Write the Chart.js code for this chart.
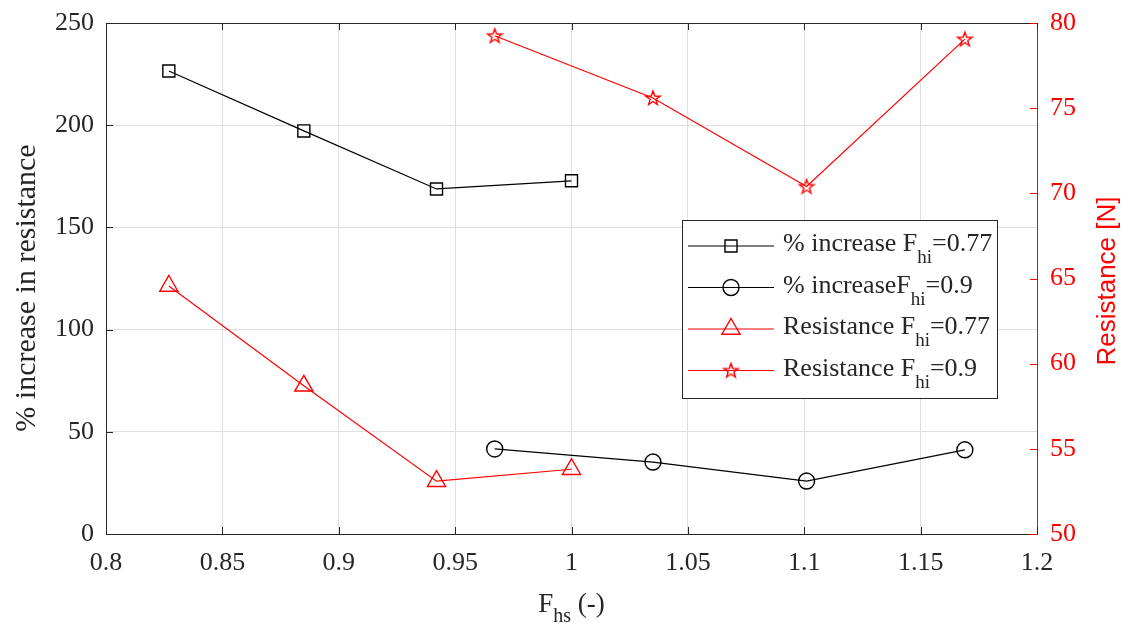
<!DOCTYPE html>
<html>
<head>
<meta charset="utf-8">
<script src="https://cdn.jsdelivr.net/npm/chart.js@4.4.1/dist/chart.umd.min.js"></script>
<style>
    html, body { margin: 0; padding: 0; background: #fff; }
    #wrap { width: 1126px; height: 627px; }
</style>
</head>
<body>
<div id="wrap"><canvas id="graphCanvas" width="1126" height="627"></canvas></div>
<script>
// F_hs values (x axis)
var fhs077 = [0.827, 0.885, 0.942, 1.0];
var fhs090 = [0.967, 1.035, 1.101, 1.169];

// % increase in resistance (left axis)
var increase077 = [226.5, 197.2, 168.8, 172.8];
var increase090 = [41.6, 35.2, 25.9, 41.2];

// Resistance [N] (right axis)
var resistance077 = [64.56, 58.7, 53.1, 53.8];
var resistance090 = [79.25, 75.6, 70.4, 79.05];

var xTicks = [0.8, 0.85, 0.9, 0.95, 1, 1.05, 1.1, 1.15, 1.2];
var leftTicks = [0, 50, 100, 150, 200, 250];
var rightTicks = [50, 55, 60, 65, 70, 75, 80];

// legend labels: [text, subscript, text after]
var seriesLabels = [
    ['% increase F', 'hi', '=0.77'],
    ['% increaseF', 'hi', '=0.9'],
    ['Resistance F', 'hi', '=0.77'],
    ['Resistance F', 'hi', '=0.9']
];

var axisColor = '#262626';
var gridColor = '#e0e0e0';
var red = '#ff0000';
var serif = '"Liberation Serif", "Times New Roman", serif';
var sans = '"Liberation Sans", Arial, sans-serif';

function pts(xs, ys) {
    return xs.map(function (x, i) { return { x: x, y: ys[i] }; });
}

// MATLAB-like pentagram marker
function makeStar(size, color) {
    var c = document.createElement('canvas');
    c.width = size;
    c.height = size;
    var g = c.getContext('2d');
    var cx = size / 2, cy = size / 2 + 0.5, R = size / 2 - 1.5, r = R * 0.4;
    g.beginPath();
    for (var k = 0; k < 10; k++) {
        var a = -Math.PI / 2 + k * Math.PI / 5;
        var rr = (k % 2) ? r : R;
        g.lineTo(cx + rr * Math.cos(a), cy + rr * Math.sin(a));
    }
    g.closePath();
    g.strokeStyle = color;
    g.lineWidth = 1.4;
    g.stroke();
    return c;
}
var starImg = makeStar(18, red);

var markers = [
    { style: 'rect', radius: 8.5, color: '#000' },
    { style: 'circle', radius: 8, color: '#000' },
    { style: 'triangle', radius: 10.5, color: red },
    { style: starImg, radius: 8, color: red }
];

function drawMarker(ctx, m, x, y) {
    ctx.save();
    ctx.strokeStyle = m.color;
    ctx.lineWidth = 1.4;
    ctx.beginPath();
    if (m.style === 'rect') {
        var s = m.radius * Math.SQRT1_2;
        ctx.rect(x - s, y - s, 2 * s, 2 * s);
        ctx.stroke();
    } else if (m.style === 'circle') {
        ctx.arc(x, y, m.radius, 0, Math.PI * 2);
        ctx.stroke();
    } else if (m.style === 'triangle') {
        var rad = 0;
        for (var k = 0; k < 3; k++) {
            ctx.lineTo(x + Math.sin(rad) * m.radius, y - Math.cos(rad) * m.radius);
            rad += Math.PI * 2 / 3;
        }
        ctx.closePath();
        ctx.stroke();
    } else {
        ctx.drawImage(m.style, x - m.style.width / 2, y - m.style.height / 2);
    }
    ctx.restore();
}

// text with a subscript part, returns width
function subText(ctx, parts, x, y, size, subSize, drop, measureOnly) {
    ctx.font = size + 'px ' + serif;
    var w1 = ctx.measureText(parts[0]).width;
    var w3 = ctx.measureText(parts[2]).width;
    ctx.font = subSize + 'px ' + serif;
    var w2 = ctx.measureText(parts[1]).width;
    if (!measureOnly) {
        ctx.textAlign = 'left';
        ctx.textBaseline = 'alphabetic';
        ctx.font = size + 'px ' + serif;
        ctx.fillText(parts[0], x, y);
        ctx.fillText(parts[2], x + w1 + w2, y);
        ctx.font = subSize + 'px ' + serif;
        ctx.fillText(parts[1], x + w1, y + drop);
    }
    return w1 + w2 + w3;
}

var decorations = {
    id: 'decorations',
    afterDraw: function (chart) {
        var ctx = chart.ctx, a = chart.chartArea;
        var xs = chart.scales.x, ys = chart.scales.y, ys2 = chart.scales.y2;
        var t = 7;
        ctx.save();
        ctx.lineWidth = 1;

        // top box line + inward ticks
        ctx.strokeStyle = axisColor;
        ctx.beginPath();
        ctx.moveTo(a.left, Math.round(a.top) + 0.5);
        ctx.lineTo(a.right, Math.round(a.top) + 0.5);
        xTicks.forEach(function (v) {
            var px = Math.round(xs.getPixelForValue(v)) + 0.5;
            ctx.moveTo(px, a.bottom);
            ctx.lineTo(px, a.bottom - t);
            ctx.moveTo(px, a.top);
            ctx.lineTo(px, a.top + t);
        });
        leftTicks.forEach(function (v) {
            var py = Math.round(ys.getPixelForValue(v)) + 0.5;
            ctx.moveTo(a.left, py);
            ctx.lineTo(a.left + t, py);
        });
        ctx.stroke();

        ctx.strokeStyle = red;
        ctx.beginPath();
        rightTicks.forEach(function (v) {
            var py = Math.round(ys2.getPixelForValue(v)) + 0.5;
            ctx.moveTo(a.right, py);
            ctx.lineTo(a.right - t, py);
        });
        ctx.stroke();

        // axis titles
        ctx.fillStyle = axisColor;
        ctx.save();
        ctx.translate(27, 288);
        ctx.rotate(-Math.PI / 2);
        ctx.font = '30px ' + serif;
        ctx.textAlign = 'center';
        ctx.textBaseline = 'middle';
        ctx.fillText('% increase in resistance', 0, 0);
        ctx.restore();

        ctx.save();
        ctx.translate(1108, 281);
        ctx.rotate(-Math.PI / 2);
        ctx.font = '26px ' + sans;
        ctx.fillStyle = red;
        ctx.textAlign = 'center';
        ctx.textBaseline = 'middle';
        ctx.fillText('Resistance [N]', 0, 0);
        ctx.restore();

        var xt = ['F', 'hs', ' (-)'];
        var wx = subText(ctx, xt, 0, 0, 27, 20, 10, true);
        ctx.fillStyle = axisColor;
        subText(ctx, xt, (a.left + a.right) / 2 - wx / 2, 612, 27, 20, 10, false);

        // legend
        var bx = 682.5, by = 220.5, bw = 315, bh = 178;
        ctx.fillStyle = '#fff';
        ctx.fillRect(bx, by, bw, bh);
        ctx.strokeStyle = axisColor;
        ctx.strokeRect(bx, by, bw, bh);
        seriesLabels.forEach(function (lab, i) {
            var ly = 246 + i * 41.5;
            var m = markers[i];
            ctx.strokeStyle = m.color;
            ctx.lineWidth = 1.2;
            ctx.beginPath();
            ctx.moveTo(688, ly);
            ctx.lineTo(774, ly);
            ctx.stroke();
            drawMarker(ctx, m, 731, ly);
            ctx.fillStyle = axisColor;
            subText(ctx, lab, 783, ly + 5, 26, 19, 12, false);
        });
        ctx.restore();
    }
};

Chart.defaults.font.family = serif;

var chartdata = {
    datasets: [
        {
            label: seriesLabels[0].join(''),
            data: pts(fhs077, increase077),
            yAxisID: 'y',
            borderColor: '#000',
            borderWidth: 1.2,
            pointStyle: markers[0].style,
            pointRadius: markers[0].radius,
            pointBorderColor: '#000',
            pointBackgroundColor: 'rgba(0,0,0,0)',
            pointBorderWidth: 1.4
        },
        {
            label: seriesLabels[1].join(''),
            data: pts(fhs090, increase090),
            yAxisID: 'y',
            borderColor: '#000',
            borderWidth: 1.2,
            pointStyle: markers[1].style,
            pointRadius: markers[1].radius,
            pointBorderColor: '#000',
            pointBackgroundColor: 'rgba(0,0,0,0)',
            pointBorderWidth: 1.4
        },
        {
            label: seriesLabels[2].join(''),
            data: pts(fhs077, resistance077),
            yAxisID: 'y2',
            borderColor: red,
            borderWidth: 1.2,
            pointStyle: markers[2].style,
            pointRadius: markers[2].radius,
            pointBorderColor: red,
            pointBackgroundColor: 'rgba(0,0,0,0)',
            pointBorderWidth: 1.4
        },
        {
            label: seriesLabels[3].join(''),
            data: pts(fhs090, resistance090),
            yAxisID: 'y2',
            borderColor: red,
            borderWidth: 1.2,
            pointStyle: markers[3].style,
            pointRadius: markers[3].radius,
            pointBorderColor: red,
            pointBackgroundColor: 'rgba(0,0,0,0)',
            pointBorderWidth: 1.4
        }
    ]
};

var graphTarget = document.getElementById('graphCanvas');

var LineGraph = new Chart(graphTarget, {
    type: 'line',
    data: chartdata,
    plugins: [decorations],
    options: {
        responsive: false,
        animation: false,
        devicePixelRatio: 1,
        layout: { padding: { top: 23, left: 0, right: 0, bottom: 0 } },
        plugins: {
            legend: { display: false },
            tooltip: { enabled: false }
        },
        elements: { line: { tension: 0, fill: false } },
        scales: {
            x: {
                type: 'linear',
                min: 0.8,
                max: 1.2,
                afterBuildTicks: function (s) { s.ticks = xTicks.map(function (v) { return { value: v }; }); },
                afterFit: function (s) { s.height = 93; },
                ticks: {
                    color: axisColor,
                    font: { size: 26 },
                    padding: 14,
                    maxRotation: 0,
                    autoSkip: false,
                    callback: function (v) { return String(Math.round(v * 100) / 100); }
                },
                grid: { color: gridColor, drawTicks: false },
                border: { color: axisColor, width: 1 }
            },
            y: {
                position: 'left',
                min: 0,
                max: 250,
                afterBuildTicks: function (s) { s.ticks = leftTicks.map(function (v) { return { value: v }; }); },
                afterFit: function (s) { s.width = 106; s.paddingTop = 10; s.paddingBottom = 10; },
                ticks: { color: axisColor, font: { size: 26 }, padding: 12 },
                grid: { color: gridColor, drawTicks: false },
                border: { color: axisColor, width: 1 }
            },
            y2: {
                position: 'right',
                min: 50,
                max: 80,
                afterBuildTicks: function (s) { s.ticks = rightTicks.map(function (v) { return { value: v }; }); },
                afterFit: function (s) { s.width = 89; s.paddingTop = 10; s.paddingBottom = 10; },
                ticks: { color: red, font: { size: 26 }, padding: 13 },
                grid: { display: false, drawTicks: false },
                border: { color: red, width: 1 }
            }
        }
    }
});
</script>
</body>
</html>
